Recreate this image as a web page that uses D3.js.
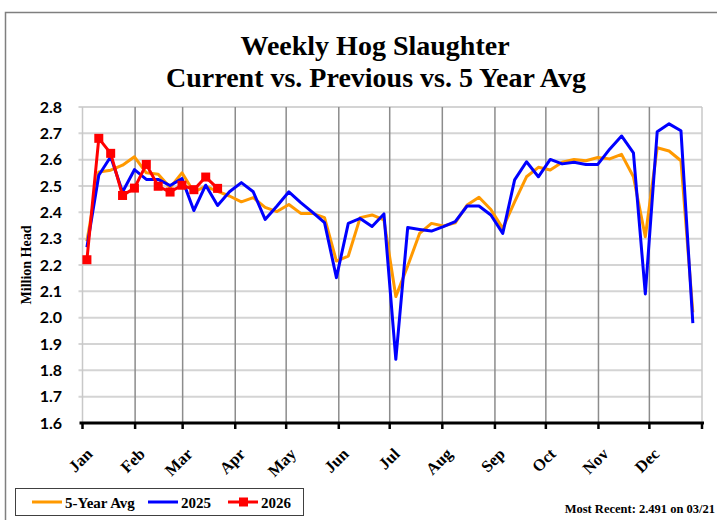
<!DOCTYPE html>
<html>
<head>
<meta charset="utf-8">
<script src="https://cdn.jsdelivr.net/npm/d3@7"></script>
<style>
  body { margin: 0; background: #fff; }
  svg { display: block; }
  .serif { font-family: "Liberation Serif", "DejaVu Serif", serif; font-weight: bold; }
  .sans { font-family: Lato, "Liberation Sans", sans-serif; font-weight: bold; }
</style>
</head>
<body>
<script>
// weekly values, million head (week 1 .. week 52)
var avg5 = [2.29, 2.553, 2.56, 2.579, 2.611, 2.55, 2.545, 2.494, 2.55, 2.477, 2.499, 2.48,
  2.462, 2.44, 2.456, 2.419, 2.403, 2.43, 2.396, 2.396, 2.38, 2.215, 2.234, 2.38,
  2.39, 2.371, 2.08, 2.196, 2.32, 2.358, 2.348, 2.36, 2.428, 2.457, 2.411, 2.339,
  2.44, 2.535, 2.571, 2.561, 2.59, 2.601, 2.596, 2.608, 2.603, 2.62, 2.535, 2.307,
  2.645, 2.633, 2.596, 2.02];
var y2025 = [2.267, 2.541, 2.611, 2.477, 2.562, 2.525, 2.525, 2.502, 2.528, 2.407, 2.503, 2.426,
  2.478, 2.513, 2.478, 2.373, 2.424, 2.478, 2.437, 2.40, 2.361, 2.152, 2.358, 2.377,
  2.346, 2.394, 1.842, 2.342, 2.335, 2.329, 2.346, 2.365, 2.424, 2.424, 2.39, 2.32,
  2.523, 2.592, 2.535, 2.601, 2.584, 2.59, 2.582, 2.582, 2.64, 2.69, 2.626, 2.09,
  2.706, 2.736, 2.71, 1.979];
var y2026 = [2.22, 2.681, 2.624, 2.464, 2.492, 2.582, 2.499, 2.477, 2.503, 2.486, 2.534, 2.491];

var months = ["Jan", "Feb", "Mar", "Apr", "May", "Jun", "Jul", "Aug", "Sep", "Oct", "Nov", "Dec"];
var monthStart = [0, 31, 59, 90, 120, 151, 181, 212, 243, 273, 304, 334, 365];
var yTicks = [1.6, 1.7, 1.8, 1.9, 2.0, 2.1, 2.2, 2.3, 2.4, 2.5, 2.6, 2.7, 2.8];

var W = 717, H = 520;
var plot = {left: 82.5, right: 702, top: 107, bottom: 423};

var svg = d3.select("body").append("svg")
  .attr("width", W)
  .attr("height", H);

// outer frame
svg.append("rect")
  .attr("x", 5.5).attr("y", 12.5)
  .attr("width", 740).attr("height", 540)
  .attr("fill", "none")
  .attr("stroke", "#7f7f7f")
  .attr("stroke-width", 1.5);

var x = d3.scaleLinear().domain([0, 365]).range([plot.left, plot.right]);
var y = d3.scaleLinear().domain([1.6, 2.8]).range([plot.bottom, plot.top]);

// week k sits near the end of its first days
function weekDay(k) { return 2.6 + 7 * k; }

// horizontal gridlines
svg.append("g").selectAll("line")
  .data(yTicks.slice(1))
  .enter().append("line")
  .attr("x1", plot.left - 4).attr("x2", plot.right)
  .attr("y1", function (d) { return y(d); })
  .attr("y2", function (d) { return y(d); })
  .attr("stroke", "#d4d4d4")
  .attr("stroke-width", 2);

// vertical month gridlines
svg.append("g").selectAll("line")
  .data(monthStart)
  .enter().append("line")
  .attr("x1", function (d) { return x(d); })
  .attr("x2", function (d) { return x(d); })
  .attr("y1", plot.top).attr("y2", plot.bottom)
  .attr("stroke", function (d, i) { return (i == 0 || i == 12) ? "#c8c8c8" : "#8c8c8c"; })
  .attr("stroke-width", 1.5);

// y axis labels
svg.append("g").selectAll("text")
  .data(yTicks)
  .enter().append("text")
  .attr("class", "sans")
  .attr("x", 62)
  .attr("y", function (d) { return y(d) + 5.5; })
  .attr("text-anchor", "end")
  .attr("font-size", 16)
  .text(function (d) { return d3.format(".1f")(d); });

svg.append("text")
  .attr("class", "serif")
  .attr("font-size", 14)
  .attr("text-anchor", "middle")
  .attr("transform", "translate(31,265) rotate(-90)")
  .text("Million Head");

// bottom axis
svg.append("line")
  .attr("x1", plot.left - 3).attr("x2", plot.right + 2)
  .attr("y1", plot.bottom).attr("y2", plot.bottom)
  .attr("stroke", "#000").attr("stroke-width", 3);
svg.append("g").selectAll("line")
  .data(monthStart)
  .enter().append("line")
  .attr("x1", function (d) { return x(d); })
  .attr("x2", function (d) { return x(d); })
  .attr("y1", plot.bottom).attr("y2", plot.bottom + 6)
  .attr("stroke", "#000").attr("stroke-width", 2.5);

svg.append("g").selectAll("text")
  .data(months)
  .enter().append("text")
  .attr("class", "serif")
  .attr("font-size", 16.5)
  .attr("text-anchor", "end")
  .attr("transform", function (d, i) {
    return "translate(" + (x(monthStart[i]) + 11) + ",455) rotate(-45)";
  })
  .text(function (d) { return d; });

// series
var line = d3.line()
  .x(function (d, i) { return x(weekDay(i)); })
  .y(function (d) { return y(d); });

svg.append("path")
  .datum(avg5)
  .attr("d", line)
  .attr("fill", "none")
  .attr("stroke", "#ff9900")
  .attr("stroke-width", 3)
  .attr("stroke-linejoin", "round");

svg.append("path")
  .datum(y2025)
  .attr("d", line)
  .attr("fill", "none")
  .attr("stroke", "#0000ff")
  .attr("stroke-width", 3)
  .attr("stroke-linejoin", "round");

svg.append("path")
  .datum(y2026)
  .attr("d", line)
  .attr("fill", "none")
  .attr("stroke", "#ff0000")
  .attr("stroke-width", 3)
  .attr("stroke-linejoin", "round");

svg.append("g").selectAll("rect")
  .data(y2026)
  .enter().append("rect")
  .attr("x", function (d, i) { return x(weekDay(i)) - 4.5; })
  .attr("y", function (d) { return y(d) - 4.5; })
  .attr("width", 9).attr("height", 9)
  .attr("fill", "#ff0000");

// title
svg.append("text")
  .attr("class", "serif")
  .attr("x", 375).attr("y", 55)
  .attr("text-anchor", "middle")
  .attr("font-size", 28)
  .text("Weekly Hog Slaughter");
svg.append("text")
  .attr("class", "serif")
  .attr("x", 376).attr("y", 87)
  .attr("text-anchor", "middle")
  .attr("font-size", 28)
  .text("Current vs. Previous vs. 5 Year Avg");

// legend
var lg = svg.append("g");
lg.append("rect")
  .attr("x", 15.5).attr("y", 488.5)
  .attr("width", 288).attr("height", 27)
  .attr("fill", "#fff")
  .attr("stroke", "#404040").attr("stroke-width", 1);

var legendItems = [
  {name: "5-Year Avg", color: "#ff9900", x: 32, marker: false},
  {name: "2025", color: "#0000ff", x: 148, marker: false},
  {name: "2026", color: "#ff0000", x: 228, marker: true}
];
legendItems.forEach(function (it) {
  lg.append("line")
    .attr("x1", it.x).attr("x2", it.x + 30)
    .attr("y1", 502).attr("y2", 502)
    .attr("stroke", it.color).attr("stroke-width", 3);
  if (it.marker) {
    lg.append("rect")
      .attr("x", it.x + 11).attr("y", 497.5)
      .attr("width", 9).attr("height", 9)
      .attr("fill", it.color);
  }
  lg.append("text")
    .attr("class", "serif")
    .attr("x", it.x + 33).attr("y", 507.5)
    .attr("font-size", 15)
    .text(it.name);
});

svg.append("text")
  .attr("class", "serif")
  .attr("x", 715).attr("y", 513)
  .attr("text-anchor", "end")
  .attr("font-size", 12.5)
  .text("Most Recent: 2.491 on 03/21");
</script>
</body>
</html>
